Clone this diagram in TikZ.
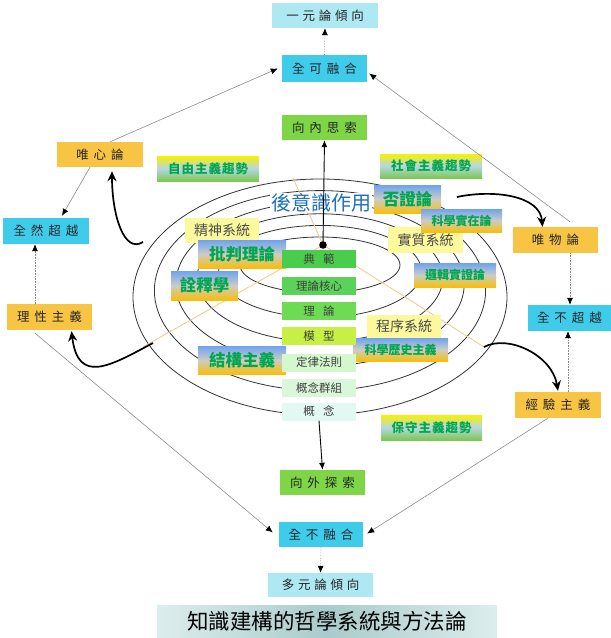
\documentclass[tikz,border=0pt]{standalone}
\usepackage{fontspec}
\newfontfamily\cjk{Noto Sans CJK TC}
\usetikzlibrary{arrows.meta,calc}
\definecolor{cyanA}{HTML}{3FCBEA}
\definecolor{cyanL}{HTML}{AEE9F3}
\definecolor{orangeA}{HTML}{F7C443}
\definecolor{greenA}{HTML}{7ED646}
\definecolor{yellowL}{HTML}{FBF99C}
\definecolor{gBlue}{HTML}{6FA3F2}
\definecolor{gMid}{HTML}{CBCCC4}
\definecolor{gOrange}{HTML}{F9BE0A}
\definecolor{tYellow}{HTML}{F6F200}
\definecolor{tMid}{HTML}{B6D6E4}
\definecolor{tGreen}{HTML}{7CC850}
\definecolor{gtext}{HTML}{00A650}
\definecolor{btext}{HTML}{1F6FBF}
\definecolor{tanL}{HTML}{F2CC94}
\definecolor{colA}{HTML}{4ACD4C}
\definecolor{colB}{HTML}{5BD35A}
\definecolor{colC}{HTML}{6EDB55}
\definecolor{colD}{HTML}{C6F044}
\definecolor{colE}{HTML}{D4F7CE}
\definecolor{colF}{HTML}{DAF7DA}
\definecolor{colG}{HTML}{E2F9F3}
\definecolor{titleM}{HTML}{A9CBCB}
\definecolor{titleL}{HTML}{DDEDED}
\makeatletter
\newcommand\ls[2][.4em]{\def\ls@k{#1}\ls@i#2\relax}
\def\ls@i#1#2{#1\ifx\relax#2\else\kern\ls@k\relax\expandafter\ls@i\expandafter#2\fi}
\makeatother
\tikzset{
  box/.style={draw=none, inner sep=0pt, text=black!85, font=\cjk\fontsize{12.5}{14}\selectfont},
  cyanbox/.style={box, fill=cyanA},
  lcyanbox/.style={box, fill=cyanL},
  orbox/.style={box, fill=orangeA},
  grbox/.style={box, fill=greenA},
  sysbox/.style={box, fill=yellowL, text=black!70, font=\cjk\fontsize{14}{16}\selectfont},
  gradbox/.style={box, top color=gBlue, bottom color=gOrange, middle color=gMid, text=gtext, font=\cjk\bfseries\fontsize{16.5}{18}\selectfont},
  gradsmall/.style={gradbox, font=\cjk\bfseries\fontsize{12}{14}\selectfont},
  trendbox/.style={box, top color=tYellow, bottom color=tGreen, middle color=tMid, text=gtext, font=\cjk\bfseries\fontsize{12.5}{14}\selectfont},
  colbox/.style={box, minimum width=74pt, minimum height=18pt, text=black!75, font=\cjk\fontsize{11.5}{13}\selectfont},
  ell/.style={draw=black!80, line width=0.8pt},
  tanline/.style={draw=tanL, line width=0.9pt},
  thinarr/.style={draw=black!45, line width=0.6pt, -{Latex[length=7pt,width=6pt,color=black]}},
  dotarr/.style={thinarr, densely dotted},
  blackarr/.style={draw=black, line width=0.9pt, -{Latex[length=7pt,width=6pt]}},
  bigarr/.style={draw=black, line width=1.7pt, -{Stealth[length=10pt,width=9pt]}}
}
\begin{document}
\begin{tikzpicture}[x=1pt,y=-1pt]
\useasboundingbox (0,0) rectangle (611,638);
% ellipses
\foreach \i [evaluate=\i as \cy using 265+6.4*\i, evaluate=\i as \rx using 80+21.4*\i, evaluate=\i as \ry using 28+18*\i] in {0,...,5}
  \draw[ell] (320,\cy) ellipse [x radius=\rx pt, y radius=\ry pt];
% center and tan lines
\coordinate (c0) at (323,245);
\coordinate (t1) at (293,178);
\coordinate (t2) at (143,347);
\coordinate (t3) at (484,347);
\draw[tanline] (t1) -- (c0) -- (t2);
\draw[tanline] (c0) -- (t3);
% top / bottom column
\node[lcyanbox, minimum width=106pt, minimum height=25pt] (yy) at (325,15.5) {\ls[.3em]{一元論傾向}};
\node[cyanbox, minimum width=85pt, minimum height=27pt] (kr) at (324.5,68.5) {\ls{全可融合}};
\node[grbox, minimum width=85pt, minimum height=25pt] (nx) at (324.5,127.5) {\ls{向內思索}};
\node[grbox, minimum width=85pt, minimum height=25pt] (wt) at (322.5,482.5) {\ls{向外探索}};
\node[cyanbox, minimum width=84pt, minimum height=25pt] (bq) at (321,534.5) {\ls{全不融合}};
\node[lcyanbox, minimum width=105pt, minimum height=24pt] (dy) at (320.5,585) {\ls[.3em]{多元論傾向}};
% side boxes
\node[orbox, minimum width=86pt, minimum height=25pt] (wxl) at (100,154.5) {\ls{唯心論}};
\node[cyanbox, minimum width=86pt, minimum height=26pt] (qr) at (46,231) {\ls{全然超越}};
\node[orbox, minimum width=85pt, minimum height=26pt] (lx) at (49.5,317) {\ls{理性主義}};
\node[orbox, minimum width=85pt, minimum height=26pt] (wl) at (555.5,240) {\ls{唯物論}};
\node[cyanbox, minimum width=83pt, minimum height=26pt] (bcy) at (569.5,318) {\ls{全不超越}};
\node[orbox, minimum width=86pt, minimum height=26pt] (jy) at (558,405) {\ls{經驗主義}};
% trend boxes
\node[trendbox, minimum width=102pt, minimum height=25pt] (zy) at (208,168.5) {\ls[.08em]{自由主義趨勢}};
\node[trendbox, minimum width=102pt, minimum height=24pt] (sh) at (431,166) {\ls[.08em]{社會主義趨勢}};
\node[trendbox, minimum width=101pt, minimum height=25pt] (bs) at (431.5,427.5) {\ls[.08em]{保守主義趨勢}};
% system boxes
\node[sysbox, minimum width=74pt, minimum height=25pt] (js) at (222,230.5) {精神系統};
\node[sysbox, minimum width=75pt, minimum height=26pt] (sz) at (425.5,240) {實質系統};
\node[sysbox, minimum width=74pt, minimum height=23pt] (cx) at (404,326.5) {程序系統};
% gradient boxes
\node[gradbox, minimum width=88pt, minimum height=28pt] (pp) at (242,254) {批判理論};
\node[gradbox, minimum width=67pt, minimum height=29pt] (qs) at (204.5,285.5) {詮釋學};
\node[gradbox, minimum width=88pt, minimum height=28pt] (jg) at (242,360) {結構主義};
\node[gradbox, minimum width=67pt, minimum height=28pt] (fz) at (407.5,199) {否證論};
\node[gradsmall, minimum width=81pt, minimum height=23pt] (kx) at (461.5,220.5) {科學實在論};
\node[gradsmall, minimum width=82pt, minimum height=24pt] (lj) at (455,275) {邏輯實證論};
\node[gradsmall, minimum width=95pt, minimum height=23pt] (kl) at (400.5,349.5) {科學歷史主義};
% green column
\node[colbox, fill=colA] (g1) at (319,259) {典\hspace{.7em}範};
\node[colbox, fill=colB] (g2) at (319,286) {理論核心};
\node[colbox, fill=colC] (g3) at (319,311) {理\hspace{.7em}論};
\node[colbox, fill=colD] (g4) at (319,336) {模\hspace{.7em}型};
\node[colbox, fill=colE] (g5) at (319,362.5) {定律法則};
\node[colbox, fill=colF] (g6) at (319,388) {概念群組};
\node[colbox, fill=colG] (g7) at (319,411.5) {概\hspace{.7em}念};
% after-consciousness text
\node[fill=white, inner sep=1pt, text=btext, font=\cjk\fontsize{20}{22}\selectfont] (hy) at (321,203) {後意識作用};
% title
\node[box, minimum width=340pt, minimum height=33pt, left color=titleL, right color=titleL, middle color=titleM, text=black, font=\cjk\fontsize{21.5}{24}\selectfont] (tt) at (327,621.5) {知識建構的哲學系統與方法論};
% center dot and arrows
\fill[black] (c0) circle (3.8pt);
\draw[blackarr] (c0) -- (nx.south);
\draw[blackarr] (g7.south) -- (wt.north);
% thin connectors
\draw[dotarr] (kr.north) -- (yy.south);
\draw[dotarr] (bq.south) -- (dy.north);
\draw[thinarr] ($(wxl.north)+(10,0)$) -- ($(kr.west)+(-4,0)$);
\draw[thinarr] ($(wl.north)+(14.5,-5)$) -- ($(kr.east)+(2,5)$);
\draw[thinarr] ($(wxl.south)+(-10,0)$) -- ($(qr.north)+(16,-2)$);
\draw[dotarr] ($(lx.north)+(-14.5,0)$) coordinate (a1) -- (a1 |- qr.south);
\draw[dotarr] ($(wl.south)+(14.5,0)$) coordinate (a2) -- (a2 |- bcy.north);
\draw[dotarr] ($(jy.north)+(10,0)$) coordinate (a3) -- (a3 |- bcy.south);
\draw[thinarr] ($(lx.south)+(-14.5,3)$) -- ($(bq.west)+(-6,-2)$);
\draw[thinarr] ($(jy.south)+(-10,0)$) -- ($(bq.east)+(4,-1)$);
% big curved arrows
\coordinate (s1) at (143,242);
\coordinate (s2) at (457,197);
\coordinate (s4) at (153,343);
\draw[bigarr] (s1) .. controls (124,254) and (112,215) .. ($(wxl.south)+(12,4)$);
\draw[bigarr] (s2) .. controls (495,189) and (540,196) .. ($(wl.north)+(-13,0)$);
\draw[bigarr] (t3) .. controls (508,334) and (552,355) .. ($(jy.north)+(0,-1)$);
\draw[bigarr] (s4) .. controls (110,366) and (78,385) .. ($(lx.south)+(22,1)$);
\end{tikzpicture}
\end{document}
